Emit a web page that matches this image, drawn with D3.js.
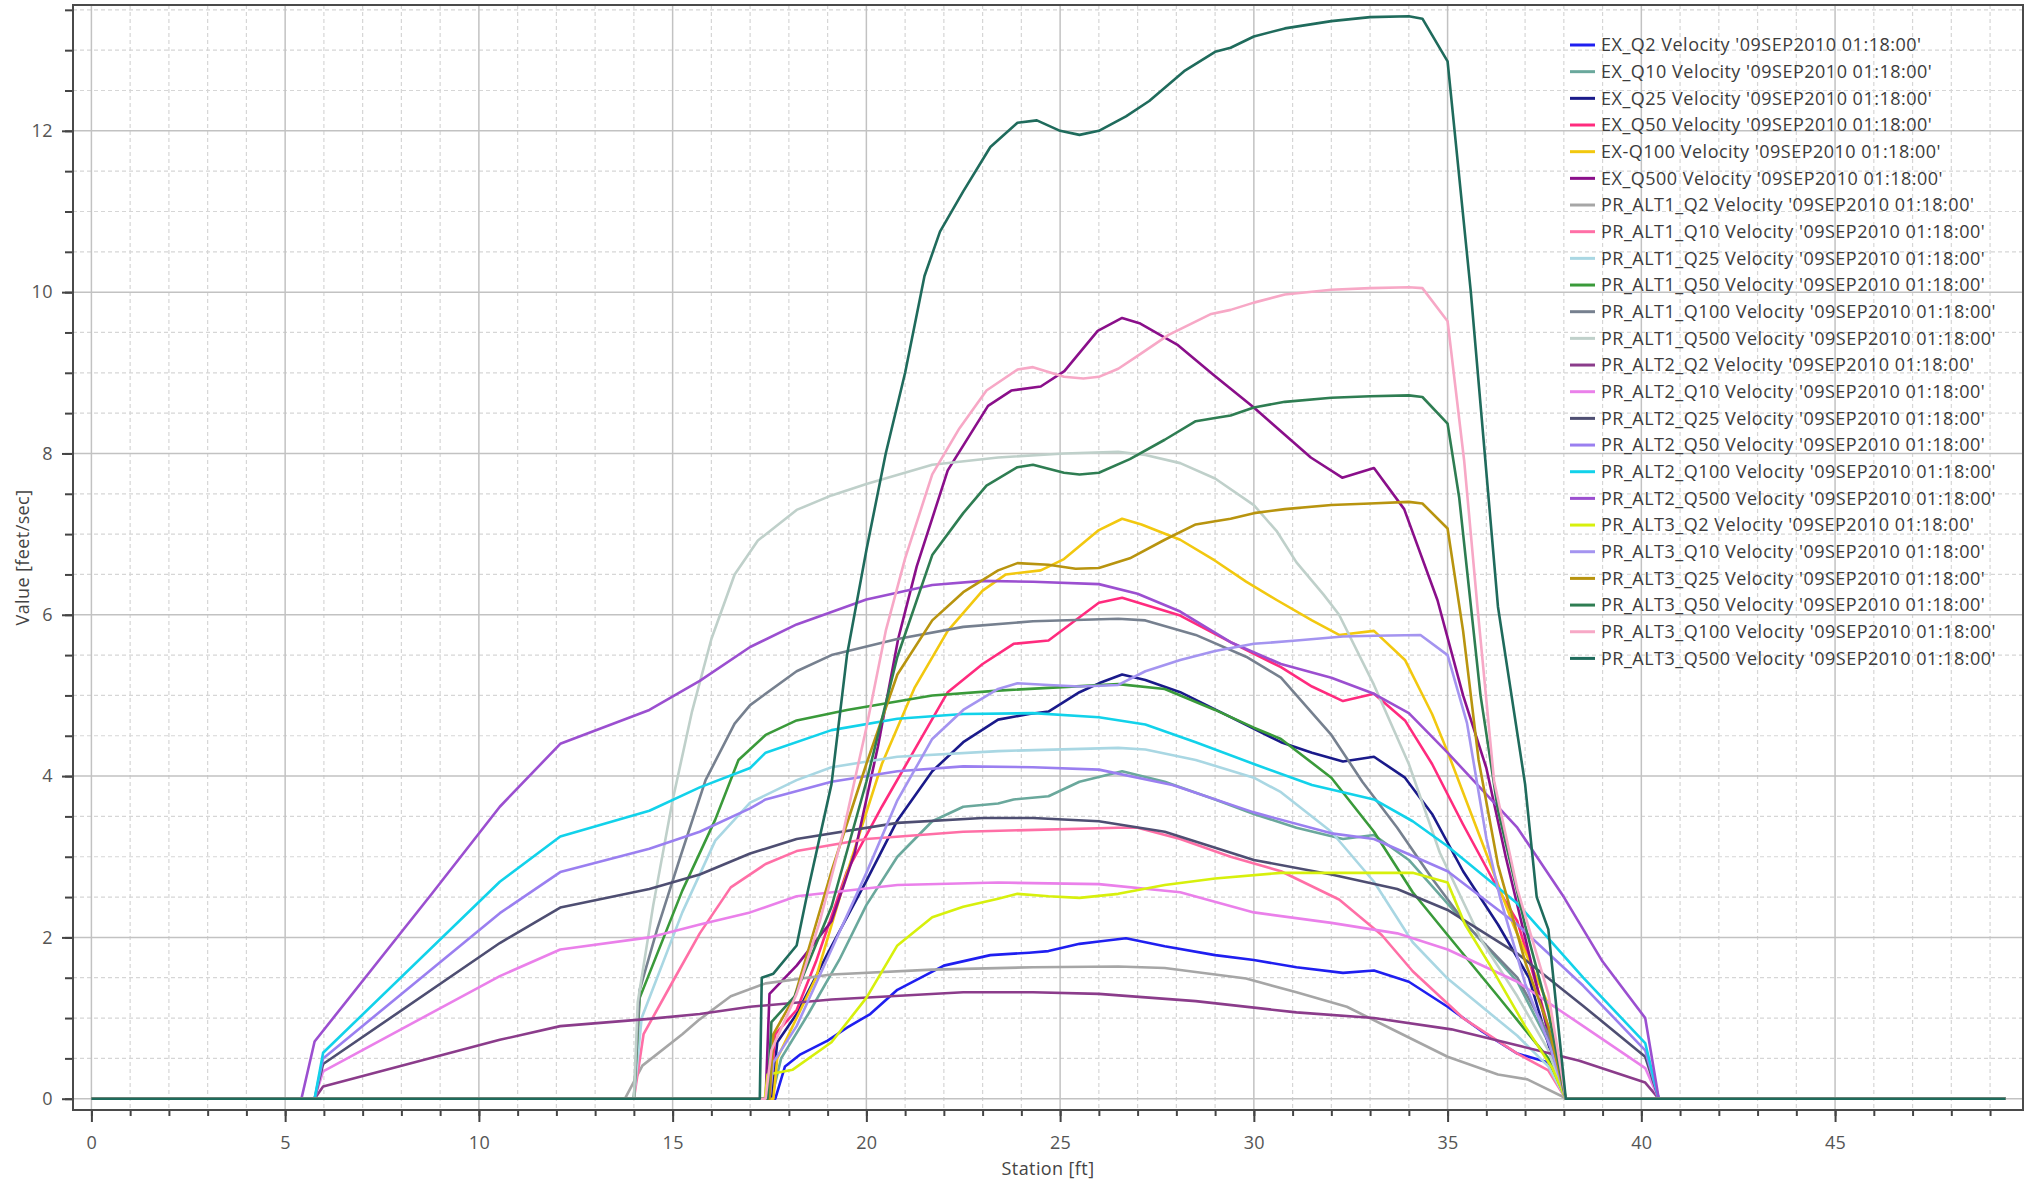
<!DOCTYPE html>
<html>
<head>
<meta charset="utf-8">
<script src="https://cdn.jsdelivr.net/npm/d3@7"></script>
<style>
  html, body { margin: 0; padding: 0; background: #ffffff; }
  svg { display: block; font-family: "Open Sans", "Noto Sans", "DejaVu Sans", sans-serif; }
</style>
</head>
<body>
<svg id="chart" width="2034" height="1184"></svg>
<script>
// Velocity distribution across the section: [station ft, velocity ft/s]
const EX_Q2 = [[0,0],[17.65,0],[17.9,0.4],[18.3,0.55],[19.0,0.72],[19.5,0.88],[20.1,1.05],[20.8,1.35],[22.0,1.65],[23.2,1.78],[24.2,1.81],[24.7,1.83],[25.5,1.92],[26.0,1.95],[26.7,1.99],[27.7,1.89],[29.0,1.78],[30.0,1.72],[31.1,1.63],[32.3,1.56],[33.1,1.59],[34.0,1.45],[35.0,1.14],[35.9,0.83],[36.8,0.56],[37.6,0.45],[38.05,0],[49.4,0]];
const EX_Q10 = [[0,0],[17.55,0],[17.8,0.5],[18.5,1.05],[19.3,1.72],[20.0,2.4],[20.8,3.0],[21.7,3.44],[22.5,3.62],[23.4,3.66],[23.8,3.71],[24.7,3.75],[25.5,3.93],[26.6,4.06],[27.7,3.93],[29.0,3.71],[30.0,3.53],[31.1,3.36],[32.3,3.22],[33.1,3.27],[34.0,2.96],[35.0,2.42],[35.9,1.94],[36.8,1.45],[37.6,0.7],[38.05,0],[49.4,0]];
const EX_Q25 = [[0,0],[17.55,0],[17.7,0.7],[18.2,1.05],[19.0,1.8],[20.0,2.7],[20.8,3.45],[21.7,4.06],[22.5,4.42],[23.4,4.7],[24.2,4.77],[24.7,4.8],[25.5,5.04],[26.0,5.15],[26.6,5.26],[27.2,5.19],[28.1,5.04],[29.4,4.73],[30.7,4.42],[31.5,4.29],[32.3,4.18],[33.1,4.24],[33.9,3.98],[34.6,3.53],[35.4,2.82],[36.3,2.16],[37.1,1.5],[37.65,0.6],[38.05,0],[49.4,0]];
const EX_Q50 = [[0,0],[17.5,0],[17.65,0.8],[18.2,1.1],[18.7,1.7],[19.5,2.82],[20.4,3.62],[21.25,4.33],[22.1,5.04],[23.0,5.39],[23.8,5.64],[24.7,5.68],[25.5,5.97],[26.0,6.15],[26.6,6.21],[28.1,5.99],[29.4,5.66],[30.7,5.35],[31.5,5.11],[32.3,4.93],[33.1,5.02],[33.9,4.69],[34.6,4.15],[35.4,3.4],[36.3,2.6],[36.8,2.2],[37.3,1.4],[37.65,0.8],[38.05,0],[49.4,0]];
const EX_Q100 = [[0,0],[17.6,0],[17.7,0.5],[18.2,1.0],[18.7,1.5],[19.5,2.8],[20.4,4.15],[21.25,5.1],[22.1,5.8],[23.0,6.3],[23.6,6.5],[24.5,6.55],[25.1,6.69],[26.0,7.05],[26.6,7.19],[27.1,7.12],[28.1,6.93],[29.0,6.67],[29.8,6.41],[30.6,6.18],[31.5,5.93],[32.2,5.75],[33.1,5.8],[33.9,5.44],[34.6,4.77],[35.0,4.3],[35.85,3.23],[36.7,2.15],[37.56,1.21],[38.05,0],[49.4,0]];
const EX_Q500 = [[0,0],[17.4,0],[17.5,1.3],[18.2,1.65],[19.1,2.2],[19.7,3.05],[20.3,4.37],[20.82,5.7],[21.3,6.6],[22.1,7.79],[23.14,8.59],[23.74,8.78],[24.5,8.83],[25.11,9.02],[25.97,9.52],[26.6,9.68],[27.07,9.61],[28.02,9.35],[28.97,8.97],[30.0,8.57],[31.47,7.95],[32.28,7.7],[33.1,7.82],[33.88,7.31],[34.74,6.18],[35.4,5.0],[36.0,4.1],[36.5,3.0],[37.1,1.8],[37.7,0.6],[38.05,0],[49.4,0]];

const PR_ALT1_Q2 = [[0,0],[13.77,0],[14.22,0.41],[15.25,0.8],[15.66,0.97],[16.5,1.27],[17.4,1.43],[19.1,1.54],[21.7,1.6],[24.3,1.63],[26.5,1.64],[27.7,1.62],[29.8,1.49],[31.1,1.32],[32.4,1.14],[33.7,0.83],[35.0,0.52],[36.3,0.3],[37.06,0.24],[38.08,0],[49.4,0]];
const PR_ALT1_Q10 = [[0,0],[14.0,0],[14.25,0.8],[15.0,1.45],[15.7,2.05],[16.5,2.62],[17.4,2.91],[18.2,3.07],[20.0,3.22],[22.5,3.31],[26.5,3.36],[27.0,3.36],[28.1,3.22],[29.4,3.0],[30.7,2.82],[32.2,2.47],[33.3,2.03],[34.1,1.58],[35.4,1.0],[36.8,0.56],[37.6,0.35],[38.05,0],[49.4,0]];
const PR_ALT1_Q25 = [[0,0],[14.0,0],[14.2,1.0],[15.25,2.31],[16.1,3.2],[17.0,3.67],[18.2,3.95],[19.1,4.11],[20.8,4.24],[23.4,4.31],[26.5,4.35],[27.2,4.33],[28.5,4.2],[30.0,3.98],[30.7,3.8],[32.0,3.31],[33.1,2.69],[34.1,1.94],[35.0,1.49],[36.8,0.78],[37.6,0.4],[38.05,0],[49.4,0]];
const PR_ALT1_Q50 = [[0,0],[14.0,0],[14.15,1.25],[15.25,2.58],[16.1,3.46],[16.7,4.2],[17.4,4.51],[18.2,4.69],[19.5,4.82],[21.7,5.0],[23.4,5.06],[26.5,5.14],[27.7,5.08],[29.0,4.82],[30.0,4.6],[30.7,4.46],[32.0,3.98],[33.1,3.31],[34.1,2.56],[35.0,2.03],[36.3,1.27],[37.6,0.5],[38.05,0],[49.4,0]];
const PR_ALT1_Q100 = [[0,0],[14.0,0],[14.15,1.35],[14.6,2.1],[15.2,3.0],[15.85,3.95],[16.6,4.65],[17.0,4.88],[18.2,5.3],[19.1,5.5],[20.8,5.7],[22.5,5.85],[24.3,5.92],[26.5,5.95],[27.2,5.93],[28.5,5.75],[29.8,5.48],[30.7,5.22],[32.0,4.51],[32.8,3.93],[33.7,3.36],[34.6,2.73],[35.5,2.15],[36.8,1.5],[37.6,0.8],[38.05,0],[49.4,0]];
const PR_ALT1_Q500 = [[0,0],[14.0,0],[14.1,1.2],[14.5,2.4],[15.0,3.7],[15.5,4.8],[16.0,5.7],[16.6,6.5],[17.2,6.92],[18.2,7.3],[19.1,7.48],[20.0,7.62],[21.7,7.86],[23.4,7.95],[25.1,8.0],[26.5,8.02],[27.2,7.98],[28.1,7.88],[29.0,7.69],[30.0,7.36],[30.6,7.03],[31.1,6.65],[31.8,6.25],[32.2,6.0],[33.1,5.13],[34.0,4.15],[34.8,3.05],[35.9,1.94],[36.8,1.27],[37.6,0.6],[38.05,0],[49.4,0]];

const PR_ALT2_Q2 = [[0,0],[5.76,0],[5.98,0.15],[10.54,0.73],[12.1,0.9],[14.4,0.99],[15.7,1.05],[17.0,1.14],[19.1,1.23],[22.5,1.32],[24.3,1.32],[26.0,1.3],[28.5,1.21],[31.1,1.07],[33.1,1.0],[35.1,0.86],[36.9,0.65],[38.4,0.47],[40.1,0.2],[40.45,0],[49.4,0]];
const PR_ALT2_Q10 = [[0,0],[5.76,0],[5.98,0.34],[10.54,1.52],[12.1,1.85],[14.4,2.0],[15.7,2.16],[17.0,2.31],[18.2,2.51],[20.8,2.65],[23.4,2.68],[26.0,2.66],[28.1,2.56],[30.0,2.31],[32.0,2.18],[33.7,2.05],[35.0,1.85],[36.8,1.45],[38.5,0.9],[40.1,0.38],[40.45,0],[49.4,0]];
const PR_ALT2_Q25 = [[0,0],[5.76,0],[5.98,0.43],[10.54,1.93],[12.1,2.37],[14.4,2.6],[15.7,2.78],[17.0,3.04],[18.2,3.22],[20.8,3.42],[23.0,3.48],[24.3,3.48],[26.0,3.44],[27.7,3.31],[30.0,2.96],[32.0,2.78],[33.7,2.6],[35.0,2.34],[36.8,1.8],[38.5,1.15],[40.1,0.52],[40.45,0],[49.4,0]];
const PR_ALT2_Q50 = [[0,0],[5.76,0],[5.98,0.5],[10.54,2.3],[12.1,2.81],[14.4,3.1],[15.7,3.31],[17.0,3.6],[17.4,3.71],[19.1,3.93],[20.8,4.06],[22.5,4.12],[24.3,4.11],[26.0,4.08],[27.9,3.89],[30.0,3.55],[32.0,3.29],[33.1,3.22],[35.0,2.82],[36.8,2.16],[38.5,1.4],[40.1,0.6],[40.45,0],[49.4,0]];
const PR_ALT2_Q100 = [[0,0],[5.76,0],[5.98,0.57],[10.54,2.69],[12.1,3.25],[14.4,3.57],[15.7,3.86],[17.0,4.1],[17.4,4.29],[19.1,4.57],[20.8,4.71],[22.5,4.77],[24.3,4.78],[26.0,4.73],[27.2,4.64],[28.5,4.42],[30.0,4.15],[31.5,3.89],[33.1,3.71],[34.1,3.44],[35.0,3.13],[36.8,2.42],[38.5,1.5],[40.1,0.69],[40.45,0],[49.4,0]];
const PR_ALT2_Q500 = [[0,0],[5.42,0],[5.76,0.71],[8.8,2.55],[10.54,3.62],[12.1,4.4],[14.4,4.82],[15.7,5.18],[17.0,5.6],[18.2,5.88],[20.0,6.19],[21.7,6.37],[23.0,6.42],[24.3,6.41],[26.0,6.38],[27.0,6.26],[28.1,6.04],[29.4,5.66],[30.7,5.39],[32.0,5.22],[33.1,5.02],[34.0,4.78],[35.0,4.29],[36.8,3.36],[38.0,2.5],[39.0,1.7],[40.1,1.0],[40.45,0],[49.4,0]];

const PR_ALT3_Q2 = [[0,0],[17.38,0],[17.45,0.3],[18.1,0.36],[19.1,0.7],[20.0,1.25],[20.8,1.9],[21.7,2.25],[22.5,2.38],[23.4,2.48],[23.9,2.54],[24.7,2.51],[25.5,2.49],[26.5,2.54],[27.7,2.65],[29.0,2.73],[30.7,2.8],[32.0,2.8],[33.1,2.8],[34.1,2.8],[35.0,2.68],[35.45,2.16],[36.1,1.65],[37.0,0.9],[37.7,0.38],[38.05,0],[49.4,0]];
const PR_ALT3_Q10 = [[0,0],[17.5,0],[17.6,0.45],[18.2,0.9],[19.1,1.85],[20.0,2.8],[20.8,3.7],[21.7,4.46],[22.5,4.82],[23.4,5.08],[23.9,5.15],[24.7,5.13],[25.5,5.11],[26.5,5.13],[27.2,5.3],[28.1,5.44],[29.0,5.55],[30.0,5.64],[31.1,5.68],[32.3,5.73],[33.1,5.74],[34.3,5.75],[35.0,5.5],[35.5,4.66],[36.0,3.23],[36.35,2.5],[37.0,1.43],[37.65,0.64],[38.05,0],[49.4,0]];
const PR_ALT3_Q25 = [[0,0],[17.5,0],[17.6,0.8],[18.15,1.27],[19.1,2.82],[20.0,4.15],[20.8,5.26],[21.7,5.93],[22.5,6.28],[23.4,6.55],[23.9,6.64],[24.7,6.62],[25.4,6.57],[26.0,6.58],[26.8,6.7],[27.7,6.93],[28.5,7.12],[29.0,7.16],[29.4,7.19],[30.0,7.26],[30.8,7.31],[32.0,7.36],[33.0,7.38],[34.0,7.4],[34.35,7.38],[35.0,7.07],[35.4,5.8],[35.8,4.2],[36.3,2.9],[37.0,1.7],[37.6,0.9],[38.05,0],[49.4,0]];
const PR_ALT3_Q50 = [[0,0],[17.45,0],[17.55,0.95],[18.15,1.27],[19.1,2.38],[20.0,3.93],[20.8,5.48],[21.7,6.74],[22.5,7.26],[23.1,7.6],[23.9,7.83],[24.3,7.86],[25.1,7.76],[25.5,7.74],[26.0,7.76],[26.8,7.93],[27.7,8.17],[28.5,8.4],[29.0,8.44],[29.4,8.47],[30.0,8.57],[30.8,8.64],[32.0,8.69],[33.0,8.71],[34.0,8.72],[34.35,8.7],[35.0,8.37],[35.3,7.45],[35.85,5.0],[36.3,3.58],[37.0,2.15],[37.6,1.07],[38.05,0],[49.4,0]];
const PR_ALT3_Q100 = [[0,0],[17.4,0],[17.55,0.6],[18.2,1.3],[18.8,2.2],[19.4,3.3],[20.0,4.6],[20.5,5.8],[21.0,6.7],[21.7,7.74],[22.4,8.31],[23.1,8.78],[23.9,9.04],[24.3,9.07],[25.1,8.95],[25.6,8.93],[26.0,8.95],[26.5,9.05],[27.0,9.21],[27.8,9.47],[28.9,9.73],[29.4,9.78],[30.0,9.87],[30.8,9.97],[32.0,10.03],[33.0,10.05],[34.0,10.06],[34.35,10.05],[35.0,9.64],[35.43,7.9],[35.77,6.1],[36.2,3.94],[36.8,2.6],[37.6,1.3],[38.05,0],[49.4,0]];
const PR_ALT3_Q500 = [[0,0],[17.25,0],[17.3,1.5],[17.6,1.55],[18.2,1.9],[18.5,2.6],[19.1,3.9],[19.5,5.5],[20.0,6.8],[20.5,8.0],[21.0,9.0],[21.5,10.2],[21.9,10.75],[22.5,11.25],[23.2,11.8],[23.9,12.1],[24.4,12.13],[25.0,12.0],[25.5,11.95],[26.0,12.0],[26.7,12.18],[27.3,12.37],[28.2,12.74],[29.0,12.98],[29.4,13.03],[30.0,13.17],[30.8,13.27],[32.0,13.36],[33.0,13.41],[34.0,13.42],[34.35,13.39],[35.0,12.86],[35.6,10.0],[36.3,6.1],[37.0,3.9],[37.3,2.5],[37.6,2.1],[38.05,0],[49.4,0]];

const seriesLabels = [
  "EX_Q2 Velocity '09SEP2010 01:18:00'",
  "EX_Q10 Velocity '09SEP2010 01:18:00'",
  "EX_Q25 Velocity '09SEP2010 01:18:00'",
  "EX_Q50 Velocity '09SEP2010 01:18:00'",
  "EX-Q100 Velocity '09SEP2010 01:18:00'",
  "EX_Q500 Velocity '09SEP2010 01:18:00'",
  "PR_ALT1_Q2 Velocity '09SEP2010 01:18:00'",
  "PR_ALT1_Q10 Velocity '09SEP2010 01:18:00'",
  "PR_ALT1_Q25 Velocity '09SEP2010 01:18:00'",
  "PR_ALT1_Q50 Velocity '09SEP2010 01:18:00'",
  "PR_ALT1_Q100 Velocity '09SEP2010 01:18:00'",
  "PR_ALT1_Q500 Velocity '09SEP2010 01:18:00'",
  "PR_ALT2_Q2 Velocity '09SEP2010 01:18:00'",
  "PR_ALT2_Q10 Velocity '09SEP2010 01:18:00'",
  "PR_ALT2_Q25 Velocity '09SEP2010 01:18:00'",
  "PR_ALT2_Q50 Velocity '09SEP2010 01:18:00'",
  "PR_ALT2_Q100 Velocity '09SEP2010 01:18:00'",
  "PR_ALT2_Q500 Velocity '09SEP2010 01:18:00'",
  "PR_ALT3_Q2 Velocity '09SEP2010 01:18:00'",
  "PR_ALT3_Q10 Velocity '09SEP2010 01:18:00'",
  "PR_ALT3_Q25 Velocity '09SEP2010 01:18:00'",
  "PR_ALT3_Q50 Velocity '09SEP2010 01:18:00'",
  "PR_ALT3_Q100 Velocity '09SEP2010 01:18:00'",
  "PR_ALT3_Q500 Velocity '09SEP2010 01:18:00'"
];
const seriesValues = [
  EX_Q2, EX_Q10, EX_Q25, EX_Q50, EX_Q100, EX_Q500,
  PR_ALT1_Q2, PR_ALT1_Q10, PR_ALT1_Q25, PR_ALT1_Q50, PR_ALT1_Q100, PR_ALT1_Q500,
  PR_ALT2_Q2, PR_ALT2_Q10, PR_ALT2_Q25, PR_ALT2_Q50, PR_ALT2_Q100, PR_ALT2_Q500,
  PR_ALT3_Q2, PR_ALT3_Q10, PR_ALT3_Q25, PR_ALT3_Q50, PR_ALT3_Q100, PR_ALT3_Q500
];
const seriesColors = [
  "#1f1ff0", "#6aa89c", "#1a1a8a", "#ff2b7e", "#f2c80f", "#8a0f8a",
  "#a6a6a6", "#ff6fa6", "#a9d7e3", "#3a9a3a", "#76808f", "#bfd0ca",
  "#8b3c8b", "#ea80ea", "#4e4e72", "#9a7ff0", "#12d2ea", "#9b4fd0",
  "#d7f00c", "#a494f0", "#b8940f", "#2e7d52", "#f7a8c6", "#1f6b5c"
];

const xMajorTicks = [0, 5, 10, 15, 20, 25, 30, 35, 40, 45];
const xMinorTicks = d3.range(0, 50, 1);
const yMajorTicks = [0, 2, 4, 6, 8, 10, 12];
const yMinorTicks = d3.range(0, 13.51, 0.5);

const svg = d3.select("#chart");
const plot = { left: 73, right: 2023, top: 5, bottom: 1110 };

const x = d3.scaleLinear().domain([-0.475, 49.85]).range([plot.left, plot.right]);
const y = d3.scaleLinear().domain([-0.14, 13.56]).range([plot.bottom, plot.top]);

svg.append("rect").attr("width", 2034).attr("height", 1184).attr("fill", "#ffffff");

// grid: dashed minor lines, solid major lines
const grid = svg.append("g");
grid.selectAll("line.xminor").data(xMinorTicks.filter(v => v % 5 !== 0)).join("line")
  .attr("x1", d => x(d)).attr("x2", d => x(d)).attr("y1", plot.top).attr("y2", plot.bottom)
  .attr("stroke", "#d6d6d6").attr("stroke-width", 1.2).attr("stroke-dasharray", "4,3");
grid.selectAll("line.yminor").data(yMinorTicks.filter(v => v % 2 !== 0)).join("line")
  .attr("y1", d => y(d)).attr("y2", d => y(d)).attr("x1", plot.left).attr("x2", plot.right)
  .attr("stroke", "#d6d6d6").attr("stroke-width", 1.2).attr("stroke-dasharray", "4,3");
grid.selectAll("line.xmajor").data(xMajorTicks).join("line")
  .attr("x1", d => x(d)).attr("x2", d => x(d)).attr("y1", plot.top).attr("y2", plot.bottom)
  .attr("stroke", "#c2c2c2").attr("stroke-width", 1.5);
grid.selectAll("line.ymajor").data(yMajorTicks).join("line")
  .attr("y1", d => y(d)).attr("y2", d => y(d)).attr("x1", plot.left).attr("x2", plot.right)
  .attr("stroke", "#c2c2c2").attr("stroke-width", 1.5);

// axes
const tickColor = "#444444";
const labelColor = "#555555";
function styleAxis(g) {
  g.select(".domain").remove();
  g.selectAll(".tick line").attr("stroke", tickColor).attr("stroke-width", 2);
  g.selectAll(".tick text").attr("fill", labelColor).attr("font-size", 18)
    .attr("letter-spacing", "0.4px")
    .attr("font-family", '"Open Sans", "Noto Sans", sans-serif');
}
svg.append("g").attr("transform", `translate(0,${plot.bottom})`)
  .call(d3.axisBottom(x).tickValues(xMinorTicks).tickSize(6).tickFormat(""))
  .call(styleAxis);
svg.append("g").attr("transform", `translate(0,${plot.bottom})`)
  .call(d3.axisBottom(x).tickValues(xMajorTicks).tickSize(12).tickPadding(14).tickFormat(d3.format("d")))
  .call(styleAxis);
svg.append("g").attr("transform", `translate(${plot.left},0)`)
  .call(d3.axisLeft(y).tickValues(yMinorTicks).tickSize(8).tickFormat(""))
  .call(styleAxis);
svg.append("g").attr("transform", `translate(${plot.left},0)`)
  .call(d3.axisLeft(y).tickValues(yMajorTicks).tickSize(11).tickPadding(9).tickFormat(d3.format("d")))
  .call(styleAxis);

// series lines
const line = d3.line().x(d => x(d[0])).y(d => y(d[1]));
const clipId = "plot-clip";
svg.append("clipPath").attr("id", clipId).append("rect")
  .attr("x", plot.left).attr("y", plot.top)
  .attr("width", plot.right - plot.left).attr("height", plot.bottom - plot.top);
svg.append("g").attr("clip-path", `url(#${clipId})`)
  .selectAll("path").data(seriesValues).join("path")
  .attr("d", d => line(d))
  .attr("fill", "none")
  .attr("stroke", (d, i) => seriesColors[i])
  .attr("stroke-width", 2.6)
  .attr("stroke-linejoin", "round");

// plot frame
svg.append("rect")
  .attr("x", plot.left).attr("y", plot.top)
  .attr("width", plot.right - plot.left).attr("height", plot.bottom - plot.top)
  .attr("fill", "none").attr("stroke", "#4a4a4a").attr("stroke-width", 2);

// legend
const legend = svg.append("g");
const rows = legend.selectAll("g").data(seriesLabels).join("g")
  .attr("transform", (d, i) => `translate(1570,${45 + i * 26.67})`);
rows.append("line").attr("x1", 0).attr("x2", 25).attr("y1", 0).attr("y2", 0)
  .attr("stroke", (d, i) => seriesColors[i]).attr("stroke-width", 3);
rows.append("text").attr("x", 31).attr("dy", "0.35em")
  .attr("font-size", 18).attr("letter-spacing", "0.5px")
  .attr("fill", "#3c3c3c").text(d => d);

// axis titles
svg.append("text")
  .attr("transform", `translate(23,${(plot.top + plot.bottom) / 2}) rotate(-90)`)
  .attr("text-anchor", "middle").attr("dy", "0.35em")
  .attr("font-size", 18).attr("letter-spacing", "0.4px")
  .attr("fill", "#444444").text("Value [feet/sec]");
svg.append("text")
  .attr("x", (plot.left + plot.right) / 2).attr("y", 1175)
  .attr("text-anchor", "middle")
  .attr("font-size", 18).attr("letter-spacing", "0.4px")
  .attr("fill", "#444444").text("Station [ft]");
</script>
</body>
</html>
